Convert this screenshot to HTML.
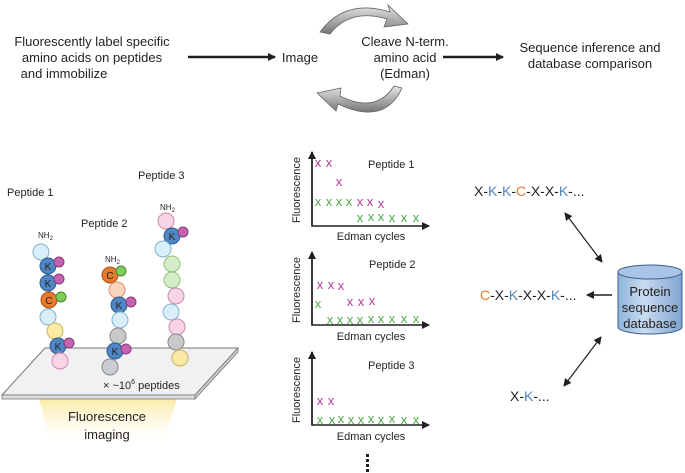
<!DOCTYPE html>
<html><head><meta charset="utf-8"><style>
html,body{margin:0;padding:0;background:#fff;width:685px;height:473px;overflow:hidden}
text{font-family:"Liberation Sans",sans-serif;fill:#231f20}
</style></head><body>
<svg width="685" height="473" viewBox="0 0 685 473" xmlns="http://www.w3.org/2000/svg">
<defs>
<marker id="ah" markerWidth="8" markerHeight="8" refX="7" refY="4" orient="auto" markerUnits="userSpaceOnUse"><path d="M0,0 L8,4 L0,8 Z" fill="#231f20"/></marker>
<marker id="ah2" markerWidth="8" markerHeight="8" refX="1" refY="4" orient="auto" markerUnits="userSpaceOnUse"><path d="M8,0 L0,4 L8,8 Z" fill="#231f20"/></marker>
<linearGradient id="glow" x1="0" y1="0" x2="0" y2="1"><stop offset="0" stop-color="#f9e27a"/><stop offset="1" stop-color="#fff" stop-opacity="0"/></linearGradient>
<linearGradient id="arc" x1="0" y1="0" x2="0" y2="1"><stop offset="0" stop-color="#e6e6e6"/><stop offset="1" stop-color="#777"/></linearGradient>
<linearGradient id="cyl" x1="0" y1="0" x2="1" y2="0"><stop offset="0" stop-color="#8fb3dc"/><stop offset="0.4" stop-color="#c9dcf0"/><stop offset="1" stop-color="#7fa4d0"/></linearGradient>
</defs>
<g font-size="13" text-anchor="middle">
<text x="92" y="46">Fluorescently label specific</text>
<text x="92" y="62">amino acids on peptides</text>
<text x="64" y="78">and immobilize</text>
<text x="300" y="62">Image</text>
<text x="405" y="46">Cleave N-term.</text>
<text x="405" y="62">amino acid</text>
<text x="405" y="78">(Edman)</text>
<text x="590" y="52">Sequence inference and</text>
<text x="590" y="68">database comparison</text>
</g>
<line x1="188" y1="57" x2="275" y2="57" stroke="#231f20" stroke-width="2.5" marker-end="url(#ah)"/>
<line x1="443" y1="57" x2="503" y2="57" stroke="#231f20" stroke-width="2.5" marker-end="url(#ah)"/>
<path d="M320,32 Q345,-2 390,12 L388,5 L408,24 L384,27 L387,19 Q350,8 330,34 Z" fill="url(#arc)" stroke="#666" stroke-width="0.8"/>
<path d="M402,88 Q385,126 338,104 L336,111 L317,93 L341,88 L340,96 Q376,114 394,86 Z" fill="url(#arc)" stroke="#666" stroke-width="0.8"/>
<path d="M38,395 L178,395 L162,448 L52,448 Z" fill="url(#glow)" opacity="0.8"/>
<path d="M2,395 L45,348 L238,348 L195,395 Z" fill="#f1f1f3" stroke="#777" stroke-width="1"/>
<path d="M2,395 L195,395 L195,399 L2,399 Z" fill="#ddd" stroke="#777" stroke-width="0.8"/>
<path d="M195,395 L238,348 L238,352 L195,399 Z" fill="#ccc" stroke="#777" stroke-width="0.8"/>
<g font-size="13" text-anchor="middle"><text x="107" y="421">Fluorescence</text><text x="107" y="439">imaging</text></g>
<text x="103" y="389" font-size="11">× ~10<tspan font-size="7" dy="-5">6</tspan><tspan dy="5"> peptides</tspan></text>
<g font-size="11"><text x="7" y="196">Peptide 1</text><text x="81" y="227">Peptide 2</text><text x="138" y="179">Peptide 3</text></g>
<g font-size="8"><text x="38" y="238">NH<tspan font-size="6" dy="2">2</tspan></text><text x="105" y="262">NH<tspan font-size="6" dy="2">2</tspan></text><text x="160" y="210">NH<tspan font-size="6" dy="2">2</tspan></text></g>
<g stroke-width="1">
<circle cx="41" cy="252" r="8" fill="#d8eef8" stroke="#7fb3cc"/>
<circle cx="48" cy="266" r="8" fill="#4f86c3" stroke="#2d5b8c"/><circle cx="59" cy="262" r="5" fill="#c463b0" stroke="#8a3a80"/>
<circle cx="48" cy="283" r="8" fill="#4f86c3" stroke="#2d5b8c"/><circle cx="59" cy="279" r="5" fill="#c463b0" stroke="#8a3a80"/>
<circle cx="49" cy="300" r="8" fill="#e77a2c" stroke="#a84f12"/><circle cx="61" cy="297" r="5" fill="#7fcc5a" stroke="#4a8a30"/>
<circle cx="48" cy="317" r="8" fill="#d8eef8" stroke="#7fb3cc"/>
<circle cx="55" cy="331" r="8" fill="#fbeaa6" stroke="#c9b460"/>
<circle cx="58" cy="346" r="8" fill="#4f86c3" stroke="#2d5b8c"/><circle cx="69" cy="343" r="5" fill="#c463b0" stroke="#8a3a80"/>
<circle cx="60" cy="361" r="8" fill="#f8d5e6" stroke="#cc8aa8"/>
<circle cx="110" cy="275" r="8" fill="#e77a2c" stroke="#a84f12"/><circle cx="121" cy="271" r="5" fill="#7fcc5a" stroke="#4a8a30"/>
<circle cx="117" cy="290" r="8" fill="#fbd4bf" stroke="#d9906a"/>
<circle cx="119" cy="305" r="8" fill="#4f86c3" stroke="#2d5b8c"/><circle cx="131" cy="302" r="5" fill="#c463b0" stroke="#8a3a80"/>
<circle cx="120" cy="320" r="8" fill="#d8eef8" stroke="#7fb3cc"/>
<circle cx="118" cy="336" r="8" fill="#c9c9c9" stroke="#888"/>
<circle cx="115" cy="351" r="8" fill="#4f86c3" stroke="#2d5b8c"/><circle cx="126" cy="349" r="5" fill="#c463b0" stroke="#8a3a80"/>
<circle cx="110" cy="367" r="8" fill="#c9ccd2" stroke="#888"/>
<circle cx="166" cy="221" r="8" fill="#f8d5e6" stroke="#cc8aa8"/>
<circle cx="172" cy="236" r="8" fill="#4f86c3" stroke="#2d5b8c"/><circle cx="183" cy="232" r="5" fill="#c463b0" stroke="#8a3a80"/>
<circle cx="163" cy="249" r="8" fill="#d8eef8" stroke="#7fb3cc"/>
<circle cx="172" cy="264" r="8" fill="#d4ecc8" stroke="#8fc07a"/>
<circle cx="172" cy="280" r="8" fill="#d4ecc8" stroke="#8fc07a"/>
<circle cx="176" cy="296" r="8" fill="#f8d5e6" stroke="#cc8aa8"/>
<circle cx="171" cy="312" r="8" fill="#d8eef8" stroke="#7fb3cc"/>
<circle cx="177" cy="327" r="8" fill="#f8d5e6" stroke="#cc8aa8"/>
<circle cx="176" cy="342" r="8" fill="#c9c9c9" stroke="#888"/>
<circle cx="180" cy="358" r="8" fill="#fbeaa6" stroke="#c9b460"/>
</g>
<g font-size="10" text-anchor="middle" fill="#222">
<text x="48" y="270">K</text><text x="48" y="287">K</text><text x="49" y="304">C</text><text x="58" y="350">K</text>
<text x="110" y="279">C</text><text x="119" y="309">K</text><text x="115" y="355">K</text><text x="172" y="240">K</text>
</g>
<g stroke="#231f20" stroke-width="1.5" fill="none">
<path d="M312,152 L312,226 L429,226" marker-end="url(#ah)"/><line x1="312" y1="226" x2="312" y2="152" marker-end="url(#ah)"/>
<path d="M312,252 L312,325 L429,325" marker-end="url(#ah)"/><line x1="312" y1="325" x2="312" y2="252" marker-end="url(#ah)"/>
<path d="M312,352 L312,425 L429,425" marker-end="url(#ah)"/><line x1="312" y1="425" x2="312" y2="352" marker-end="url(#ah)"/>
</g>
<g font-size="11">
<text x="368" y="168">Peptide 1</text><text x="369" y="268">Peptide 2</text><text x="368" y="369">Peptide 3</text>
<g text-anchor="middle"><text x="371" y="240">Edman cycles</text><text x="371" y="340">Edman cycles</text><text x="371" y="440">Edman cycles</text></g>
<text transform="translate(300,190) rotate(-90)" text-anchor="middle">Fluorescence</text>
<text transform="translate(300,290) rotate(-90)" text-anchor="middle">Fluorescence</text>
<text transform="translate(300,390) rotate(-90)" text-anchor="middle">Fluorescence</text>
</g>
<g font-size="13" text-anchor="middle">
<text x="318" y="167" style="fill:#b03b96">x</text><text x="329" y="167" style="fill:#b03b96">x</text><text x="339" y="186" style="fill:#b03b96">x</text>
<text x="360" y="206" style="fill:#b03b96">x</text><text x="370" y="206" style="fill:#b03b96">x</text><text x="381" y="208" style="fill:#b03b96">x</text>
<text x="320" y="289" style="fill:#b03b96">x</text><text x="331" y="289" style="fill:#b03b96">x</text><text x="341" y="290" style="fill:#b03b96">x</text>
<text x="350" y="306" style="fill:#b03b96">x</text><text x="361" y="306" style="fill:#b03b96">x</text><text x="372" y="305" style="fill:#b03b96">x</text>
<text x="320" y="405" style="fill:#b03b96">x</text><text x="331" y="405" style="fill:#b03b96">x</text>
<text x="318" y="206" style="fill:#4fa84a">x</text><text x="329" y="206" style="fill:#4fa84a">x</text><text x="339" y="206" style="fill:#4fa84a">x</text><text x="349" y="206" style="fill:#4fa84a">x</text>
<text x="360" y="222" style="fill:#4fa84a">x</text><text x="371" y="221" style="fill:#4fa84a">x</text><text x="381" y="221" style="fill:#4fa84a">x</text><text x="392" y="222" style="fill:#4fa84a">x</text><text x="404" y="222" style="fill:#4fa84a">x</text><text x="416" y="222" style="fill:#4fa84a">x</text>
<text x="318" y="308" style="fill:#4fa84a">x</text>
<text x="330" y="324" style="fill:#4fa84a">x</text><text x="340" y="324" style="fill:#4fa84a">x</text><text x="350" y="324" style="fill:#4fa84a">x</text><text x="360" y="324" style="fill:#4fa84a">x</text><text x="371" y="323" style="fill:#4fa84a">x</text><text x="381" y="323" style="fill:#4fa84a">x</text><text x="392" y="323" style="fill:#4fa84a">x</text><text x="404" y="323" style="fill:#4fa84a">x</text><text x="416" y="323" style="fill:#4fa84a">x</text>
<text x="320" y="424" style="fill:#4fa84a">x</text><text x="332" y="424" style="fill:#4fa84a">x</text><text x="341" y="423" style="fill:#4fa84a">x</text><text x="351" y="424" style="fill:#4fa84a">x</text><text x="361" y="424" style="fill:#4fa84a">x</text><text x="371" y="423" style="fill:#4fa84a">x</text><text x="381" y="424" style="fill:#4fa84a">x</text><text x="392" y="423" style="fill:#4fa84a">x</text><text x="404" y="424" style="fill:#4fa84a">x</text><text x="416" y="424" style="fill:#4fa84a">x</text>
</g>
<g fill="#231f20"><rect x="366" y="454" width="3" height="3"/><rect x="366" y="459" width="3" height="3"/><rect x="366" y="464" width="3" height="3"/><rect x="366" y="469" width="3" height="3"/></g>
<g font-size="14">
<text x="474" y="196">X-<tspan style="fill:#4f86c3">K</tspan>-<tspan style="fill:#4f86c3">K</tspan>-<tspan style="fill:#e77a2c">C</tspan>-X-X-<tspan style="fill:#4f86c3">K</tspan>-...</text>
<text x="480" y="300"><tspan style="fill:#e77a2c">C</tspan>-X-<tspan style="fill:#4f86c3">K</tspan>-X-X-<tspan style="fill:#4f86c3">K</tspan>-...</text>
<text x="510" y="401">X-<tspan style="fill:#4f86c3">K</tspan>-...</text>
</g>
<line x1="565" y1="213" x2="602" y2="262" stroke="#231f20" stroke-width="1.2" marker-start="url(#ah2)" marker-end="url(#ah)"/>
<line x1="612" y1="295" x2="587" y2="295" stroke="#231f20" stroke-width="1.5" marker-end="url(#ah)"/>
<line x1="601" y1="337" x2="564" y2="386" stroke="#231f20" stroke-width="1.2" marker-start="url(#ah2)" marker-end="url(#ah)"/>
<path d="M618,272 L618,327 A32,7 0 0 0 682,327 L682,272 Z" fill="url(#cyl)" stroke="#3d5f8c" stroke-width="1"/>
<ellipse cx="650" cy="272" rx="32" ry="7" fill="#a9c4e6" stroke="#3d5f8c" stroke-width="1"/>
<g font-size="13" text-anchor="middle"><text x="650" y="296">Protein</text><text x="650" y="312">sequence</text><text x="650" y="328">database</text></g>
</svg>
</body></html>
